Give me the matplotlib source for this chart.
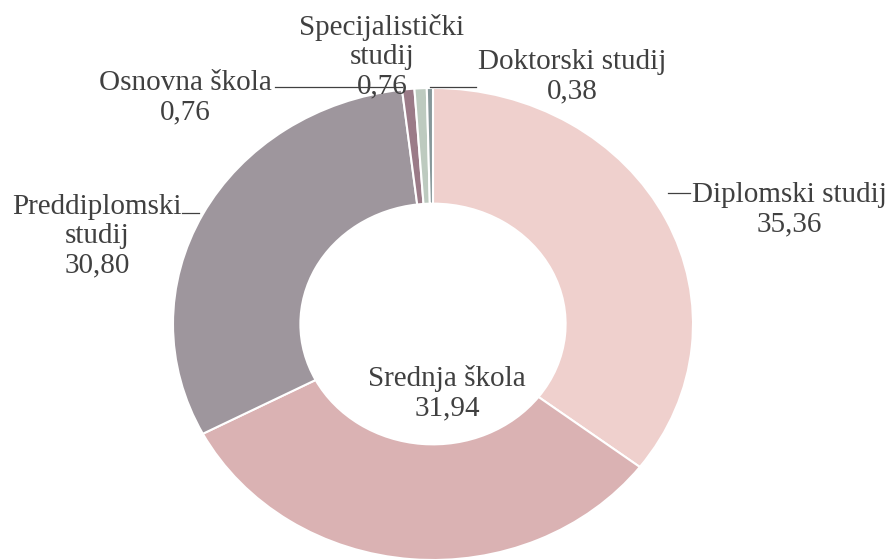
import matplotlib.pyplot as plt

# data
categories = ['Diplomski studij', 'Srednja škola', 'Preddiplomski\nstudij',
              'Osnovna škola', 'Specijalistički\nstudij', 'Doktorski studij']
values = [35.36, 31.94, 30.80, 0.76, 0.76, 0.38]
value_labels = ['35,36', '31,94', '30,80', '0,76', '0,76', '0,38']
colors = ['#EFD0CD', '#DAB2B3', '#9E969D', '#9B7B88', '#BDCABF', '#87989A']

W, H = 889, 560
cx, cy = 433, 324      # donut centre in pixels
rx, ry = 260, 236      # outer radii in pixels (chart is stretched sideways)

fig = plt.figure(figsize=(W / 100, H / 100), dpi=100)
fig.patch.set_facecolor('white')

ax = fig.add_axes([0, 0, 1, 1])
ax.pie(values, colors=colors, startangle=90, counterclock=False,
       wedgeprops=dict(width=0.49, edgecolor='white', linewidth=1.5))
ax.set_aspect('auto')
ax.set_xlim(-cx / rx, (W - cx) / rx)
ax.set_ylim(-(H - cy) / ry, cy / ry)
ax.axis('off')

# overlay in pixel coordinates for labels and leader lines
ov = fig.add_axes([0, 0, 1, 1], facecolor='none')
ov.set_xlim(0, W)
ov.set_ylim(H, 0)
ov.axis('off')

# baseline of the last line of each label
label_pos = [(789, 231), (447, 415), (97, 272), (185, 119), (382, 93), (572, 98)]
txt = dict(family='Liberation Serif', fontsize=21, color='#404040',
           ha='center', va='baseline', linespacing=1.15)
for name, val, (x, y) in zip(categories, value_labels, label_pos):
    ov.text(x, y, name + '\n' + val, **txt)

leaders = [((668, 690), (193, 193)), ((182, 199), (213, 213)),
           ((275, 402), (87, 87)), ((430, 476), (87, 87))]
for xs, ys in leaders:
    ov.plot(xs, ys, color='#404040', linewidth=0.9)

fig.savefig('out.png', dpi=100)
